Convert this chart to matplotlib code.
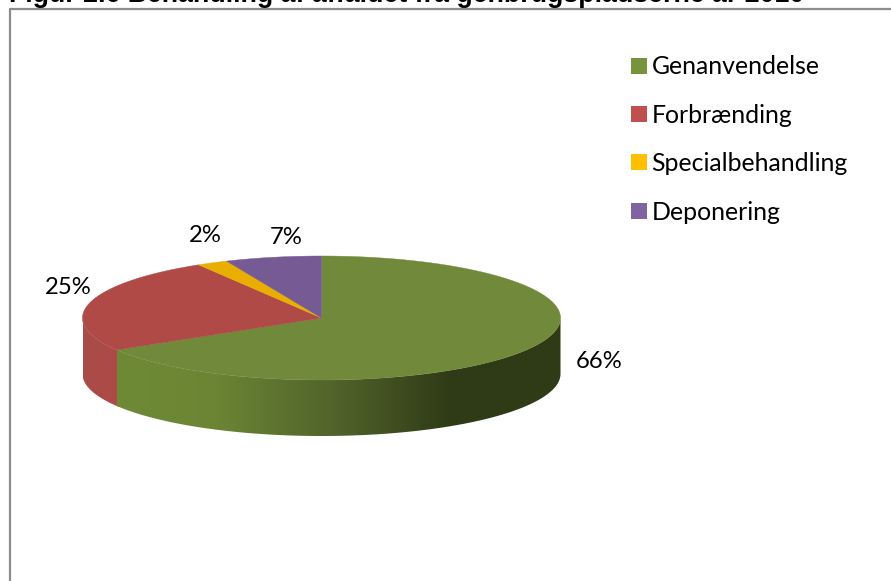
import numpy as np
import matplotlib
matplotlib.use("Agg")
import matplotlib.pyplot as plt
from matplotlib.patches import Polygon, Patch
from matplotlib.colors import LinearSegmentedColormap

title = "Figur 2.6 Behandling af affaldet fra genbrugspladserne år 2010"
categories = ["Genanvendelse", "Forbrænding", "Specialbehandling", "Deponering"]
values = [66.4, 25.0, 2.1, 6.5]
pct_labels = ["66%", "25%", "2%", "7%"]
top_colors = ["#71893A", "#AF4A47", "#E9AE00", "#765A93"]
legend_colors = ["#77933C", "#C0504D", "#FFC000", "#8064A2"]

W, H = 891, 581
fig = plt.figure(figsize=(W / 100, H / 100), dpi=100, facecolor="white")
ax = fig.add_axes([0, 0, 1, 1])
ax.set_xlim(0, W)
ax.set_ylim(H, 0)
ax.axis("off")

FONT = "Lato"
cx, cy, rx, ry, depth = 321.5, 318, 239, 62, 56


def pt(a, dy=0):
    """a: degrees clockwise from the top of the ellipse."""
    r = np.radians(a)
    return np.column_stack([cx + rx * np.sin(r), cy - ry * np.cos(r) + dy])


# frame
ax.plot([9.5, 9.5, W + 5], [H + 5, 8.5, 8.5], color="#8C8C8C", lw=1.6, solid_capstyle="butt")

shares = np.array(values) / sum(values) * 360
ends = np.cumsum(shares)
starts = ends - shares

# walls (front half only: 90..270 degrees)
wall_maps = [
    LinearSegmentedColormap.from_list("g", [(0, "#6F8A37"), (0.22, "#6B8534"), (0.50, "#50622A"),
                                            (0.75, "#2F3B16"), (1, "#2F3B16")]),
    LinearSegmentedColormap.from_list("r", ["#A94C49", "#AE4A47"]),
]
for i, cmap in enumerate(wall_maps):
    # the later wall runs a little under the earlier one, so no seam shows
    a0, a1 = max(starts[i] - 1.5 * i, 90), min(ends[i], 270)
    if a1 <= a0:
        continue
    arc = np.linspace(a0, a1, 160)
    poly = np.vstack([pt(arc), pt(arc[::-1], depth)])
    p = Polygon(poly, closed=True, fc="none", ec="none")
    ax.add_patch(p)
    xs = poly[:, 0]
    ys = poly[:, 1]
    grad = np.linspace(0, 1, 512).reshape(1, -1)
    im = ax.imshow(grad, cmap=cmap, aspect="auto",
                   extent=[xs.min(), xs.max(), ys.max(), ys.min()], zorder=2 - 0.1 * i)
    im.set_clip_path(p)
ax.set_xlim(0, W)
ax.set_ylim(H, 0)

# top face
for s, e, c in zip(starts, ends, top_colors):
    arc = np.linspace(s, e, 200)
    poly = np.vstack([[cx, cy], pt(arc)])
    ax.add_patch(Polygon(poly, closed=True, fc=c, ec=c, lw=0.3, zorder=3))

# percent labels
label_pos = [(599, 362), (68, 287), (205, 236), (286, 237)]
for (x, y), t in zip(label_pos, pct_labels):
    ax.text(x, y, t, fontsize=17.2, family=FONT, ha="center", va="center", color="black", zorder=4)

# legend
handles = [Patch(fc=c, ec="none") for c in legend_colors]
ax.legend(handles, categories, loc="upper left", bbox_to_anchor=(624 / W, 1 - 48 / H),
          frameon=False, prop={"family": FONT, "size": 17.9},
          handlelength=0.61, handleheight=0.61, handletextpad=0.2, labelspacing=1.02,
          borderpad=0.3, borderaxespad=0, labelcolor="black")

# title, cut by the image's top edge
ax.text(9, 2, title, fontsize=19.25, family="Liberation Sans", fontweight="bold",
        ha="left", va="baseline", color="black", clip_on=False)

fig.savefig("out.png", dpi=100, facecolor="white")
